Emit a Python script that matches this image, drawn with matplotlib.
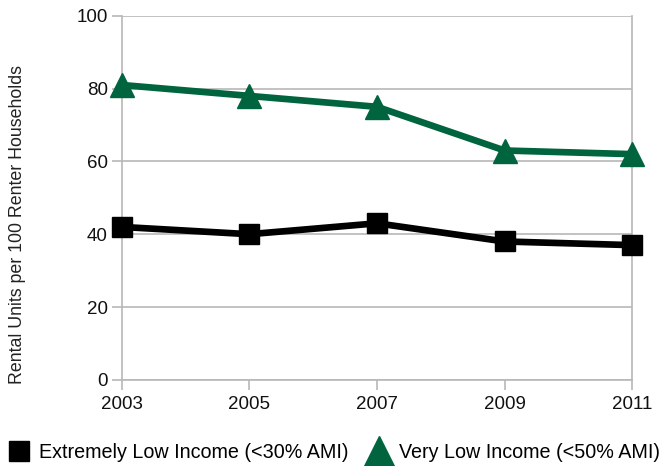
import numpy as np
import matplotlib.pyplot as plt
from matplotlib.lines import Line2D

plt.rcParams['font.family'] = ['Liberation Sans', 'DejaVu Sans']

years = ['2003', '2005', '2007', '2009', '2011']
extremely_low = [42, 40, 43, 38, 37]
very_low = [81, 78, 75, 63, 62]

GREEN = '#00643f'
GRID = '#b8b8b8'

fig = plt.figure(figsize=(6.62, 4.66), dpi=100)
ax = fig.add_axes([0.184, 0.185, 0.771, 0.781])

x = np.arange(len(years))
ax.plot(x, very_low, color=GREEN, lw=4.8, marker='^', ms=17, clip_on=False, zorder=3)
ax.plot(x, extremely_low, color='black', lw=4.8, marker='s', ms=14, clip_on=False, zorder=3)

ax.set_xlim(0, len(years) - 1)
ax.set_ylim(0, 100)
ax.set_xticks(x)
ax.set_xticklabels(years)
ax.set_yticks(np.arange(0, 101, 20))
ax.yaxis.grid(True, color=GRID, lw=1.2)
ax.set_axisbelow(True)

for side in ['left', 'right', 'bottom']:
    ax.spines[side].set_color(GRID)
    ax.spines[side].set_linewidth(1.2)
ax.spines['top'].set_visible(False)
ax.tick_params(axis='both', colors=GRID, width=1.2, length=7, labelsize=13.5, labelcolor='#111111')
ax.tick_params(axis='x', pad=5)
ax.tick_params(axis='y', pad=3)
ax.set_ylabel('Rental Units per 100 Renter Households', fontsize=12.8, color='#222222')
ax.yaxis.set_label_coords(-0.188, 0.426)

handles = [
    Line2D([], [], color='black', marker='s', ls='none', ms=15),
    Line2D([], [], color=GREEN, marker='^', ls='none', ms=21),
]
labels = ['Extremely Low Income (<30% AMI)', 'Very Low Income (<50% AMI)']
fig.legend(handles, labels, loc='lower center', bbox_to_anchor=(0.505, -0.03), ncol=2,
           frameon=False, fontsize=14.2, handletextpad=0.45, columnspacing=1.0,
           handlelength=1.1)

fig.savefig('out.png', dpi=100)
